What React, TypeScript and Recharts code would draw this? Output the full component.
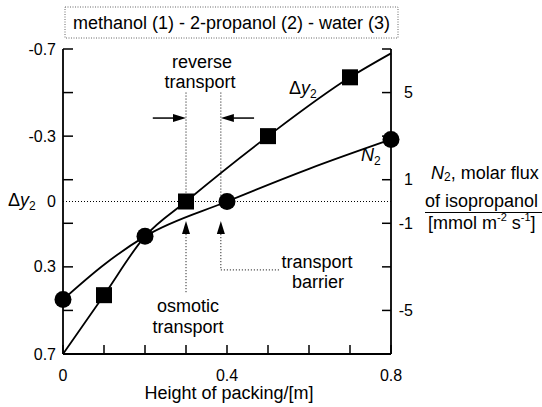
import React from "react";
import {
  LineChart,
  Line,
  XAxis,
  YAxis,
  ReferenceLine,
  ReferenceDot,
} from "recharts";

// height of packing [m]
const dyX = [0, 0.1, 0.2, 0.3, 0.5, 0.7, 0.8];
// driving force Δy2 (left axis, reversed)
const dyVal = [0.7, 0.43, 0.16, 0, -0.3, -0.57, -0.68];
const dyMark = [false, true, false, true, true, true, false];

// molar flux of isopropanol N2 [mmol m-2 s-1] (right axis)
const nX = [0, 0.1, 0.2, 0.4, 0.6, 0.8];
const nVal = [-4.5, -2.9, -1.6, 0, 1.5, 2.85];
const nMark = [true, false, true, true, false, true];

const xTicks = [0, 0.1, 0.2, 0.3, 0.4, 0.5, 0.6, 0.7, 0.8];
const xLabels = [0, 0.4, 0.8];
const leftTicks = [-0.7, -0.5, -0.3, -0.1, 0, 0.1, 0.3, 0.5, 0.7];
const leftLabels = [-0.7, -0.3, 0, 0.3, 0.7];
const rightTicks = [7, 5, 3, 1, -1, -3, -5, -7];
const rightLabels = [5, 1, -1, -5];

const dyData = dyX.map((x, i) => ({ x, y: dyVal[i], mark: dyMark[i] }));
const nData = nX.map((x, i) => ({ x, y: nVal[i], mark: nMark[i] }));

const FONT = "'Liberation Sans', Arial, Helvetica, sans-serif";
const W = 542;
const H = 407;

const LeftTick = ({ x, y, payload }: any) => {
  const v = payload.value;
  return (
    <g>
      {v !== 0 && <line x1={x} x2={x + 10} y1={y} y2={y} stroke="#000" strokeWidth={1.5} />}
      {leftLabels.includes(v) && (
        <text x={x - 7} y={y} textAnchor="end" dominantBaseline="central" fontSize={16} fontFamily={FONT} fill="#000">
          {String(v)}
        </text>
      )}
    </g>
  );
};

const RightTick = ({ x, y, payload }: any) => {
  const v = payload.value;
  return (
    <g>
      <line x1={x} x2={x - 9} y1={y} y2={y} stroke="#000" strokeWidth={1.5} />
      {rightLabels.includes(v) && (
        <text x={x + 22} y={y} textAnchor="end" dominantBaseline="central" fontSize={16} fontFamily={FONT} fill="#000">
          {String(v)}
        </text>
      )}
    </g>
  );
};

const BottomTick = ({ x, y, payload }: any) => {
  const v = payload.value;
  return (
    <g>
      <line x1={x} x2={x} y1={y} y2={y - 9} stroke="#000" strokeWidth={1.5} />
      {xLabels.includes(v) && (
        <text x={x} y={y + 21} textAnchor="middle" dominantBaseline="central" fontSize={16} fontFamily={FONT} fill="#000">
          {String(v)}
        </text>
      )}
    </g>
  );
};

const squareDot = (p: any) => {
  const { cx, cy, payload, index } = p;
  if (!payload.mark) return <g key={`s${index}`} />;
  return <rect key={`s${index}`} x={cx - 8} y={cy - 8} width={16} height={16} fill="#000" />;
};

const circleDot = (p: any) => {
  const { cx, cy, payload, index } = p;
  if (!payload.mark) return <g key={`c${index}`} />;
  return <circle key={`c${index}`} cx={cx} cy={cy} r={8.5} fill="#000" />;
};

const arrowHead = (dir: "left" | "right" | "up") => (p: any) => {
  const { cx, cy } = p;
  let pts = "";
  if (dir === "right") pts = `${cx},${cy} ${cx - 13},${cy - 4} ${cx - 13},${cy + 4}`;
  if (dir === "left") pts = `${cx},${cy} ${cx + 13},${cy - 4} ${cx + 13},${cy + 4}`;
  if (dir === "up") pts = `${cx},${cy} ${cx - 4},${cy + 13} ${cx + 4},${cy + 13}`;
  return <polygon points={pts} fill="#000" />;
};

const dotted = { stroke: "#000", strokeWidth: 1, strokeDasharray: "1 2" };

const App = () => {
  return (
    <div style={{ position: "absolute", left: 0, top: 0, width: W, height: H, background: "#fff" }}>
      <LineChart width={W} height={H} data={dyData} margin={{ top: 49, right: 0, bottom: 0, left: 0 }}>
        <XAxis
          dataKey="x"
          type="number"
          domain={[0, 0.8]}
          ticks={xTicks}
          interval={0}
          height={53}
          tickSize={0}
          tickMargin={0}
          tick={<BottomTick />}
          axisLine={{ stroke: "#000", strokeWidth: 1.8 }}
        />
        <YAxis
          yAxisId="left"
          type="number"
          domain={[-0.7, 0.7]}
          reversed
          ticks={leftTicks}
          interval={0}
          width={63}
          tickSize={0}
          tickMargin={0}
          tick={<LeftTick />}
          axisLine={{ stroke: "#000", strokeWidth: 1.8 }}
        />
        <YAxis
          yAxisId="right"
          orientation="right"
          type="number"
          domain={[-7, 7]}
          ticks={rightTicks}
          interval={0}
          width={151}
          tickSize={0}
          tickMargin={0}
          tick={<RightTick />}
          axisLine={{ stroke: "#000", strokeWidth: 1.8 }}
        />

        <ReferenceLine yAxisId="left" y={0} {...dotted} />
        {/* reverse transport band */}
        <ReferenceLine yAxisId="left" segment={[{ x: 0.3, y: -0.5 }, { x: 0.3, y: 0 }]} {...dotted} />
        <ReferenceLine yAxisId="left" segment={[{ x: 0.385, y: -0.5 }, { x: 0.385, y: 0 }]} {...dotted} />
        <ReferenceLine yAxisId="left" segment={[{ x: 0.219, y: -0.383 }, { x: 0.27, y: -0.383 }]} stroke="#000" strokeWidth={1.5} />
        <ReferenceLine yAxisId="left" segment={[{ x: 0.466, y: -0.383 }, { x: 0.415, y: -0.383 }]} stroke="#000" strokeWidth={1.5} />
        <ReferenceDot yAxisId="left" x={0.3} y={-0.383} r={0} shape={arrowHead("right")} />
        <ReferenceDot yAxisId="left" x={0.385} y={-0.383} r={0} shape={arrowHead("left")} />
        {/* osmotic transport */}
        <ReferenceLine yAxisId="left" segment={[{ x: 0.3, y: 0.15 }, { x: 0.3, y: 0.42 }]} {...dotted} />
        <ReferenceDot yAxisId="left" x={0.3} y={0.09} r={0} shape={arrowHead("up")} />
        {/* transport barrier */}
        <ReferenceLine yAxisId="left" segment={[{ x: 0.385, y: 0.15 }, { x: 0.385, y: 0.314 }]} {...dotted} />
        <ReferenceLine yAxisId="left" segment={[{ x: 0.385, y: 0.314 }, { x: 0.529, y: 0.314 }]} {...dotted} />
        <ReferenceDot yAxisId="left" x={0.385} y={0.09} r={0} shape={arrowHead("up")} />

        <Line
          yAxisId="left"
          data={dyData}
          dataKey="y"
          type="monotone"
          stroke="#000"
          strokeWidth={1.8}
          dot={squareDot}
          activeDot={false}
          isAnimationActive={false}
        />
        <Line
          yAxisId="right"
          data={nData}
          dataKey="y"
          type="monotone"
          stroke="#000"
          strokeWidth={1.8}
          dot={circleDot}
          activeDot={false}
          isAnimationActive={false}
        />
      </LineChart>

      <svg
        width={W}
        height={H}
        style={{ position: "absolute", left: 0, top: 0, pointerEvents: "none" }}
        fontFamily={FONT}
        fontSize={18}
        fill="#000"
      >
        <rect x={65} y={7} width={333} height={31} fill="none" stroke="#666" strokeWidth={1} strokeDasharray="1 1.5" />
        <text x={231.5} y={23} textAnchor="middle" dominantBaseline="central">
          methanol (1) - 2-propanol (2) - water (3)
        </text>

        <text x={8} y={206}>
          Δ<tspan fontStyle="italic">y</tspan>
          <tspan fontSize={12} dy={4}>2</tspan>
        </text>
        <text x={289} y={94}>
          Δ<tspan fontStyle="italic">y</tspan>
          <tspan fontSize={12} dy={4}>2</tspan>
        </text>
        <text x={361} y={161} fontStyle="italic">
          N<tspan fontSize={12} dy={4} fontStyle="normal">2</tspan>
        </text>

        <text x={202} y={62} textAnchor="middle" dominantBaseline="central">reverse</text>
        <text x={200} y={82} textAnchor="middle" dominantBaseline="central">transport</text>
        <text x={188} y={306} textAnchor="middle" dominantBaseline="central">osmotic</text>
        <text x={188} y={327} textAnchor="middle" dominantBaseline="central">transport</text>
        <text x={317} y={262} textAnchor="middle" dominantBaseline="central">transport</text>
        <text x={318} y={282} textAnchor="middle" dominantBaseline="central">barrier</text>

        <text x={431} y={173} dominantBaseline="central">
          <tspan fontStyle="italic">N</tspan>
          <tspan fontSize={12} dy={4}>2</tspan>
          <tspan dy={-4}>, molar flux</tspan>
        </text>
        <text x={425} y={201} dominantBaseline="central">of isopropanol</text>
        <line x1={425} x2={542} y1={212.5} y2={212.5} stroke="#000" strokeWidth={1.2} />
        <text x={428} y={223} dominantBaseline="central">
          [mmol m<tspan fontSize={11} dy={-6}>-2</tspan>
          <tspan dy={6}> s</tspan>
          <tspan fontSize={11} dy={-6}>-1</tspan>
          <tspan dy={6}>]</tspan>
        </text>

        <text x={229} y={393} textAnchor="middle" dominantBaseline="central">Height of packing/[m]</text>
      </svg>
    </div>
  );
};

export default App;
